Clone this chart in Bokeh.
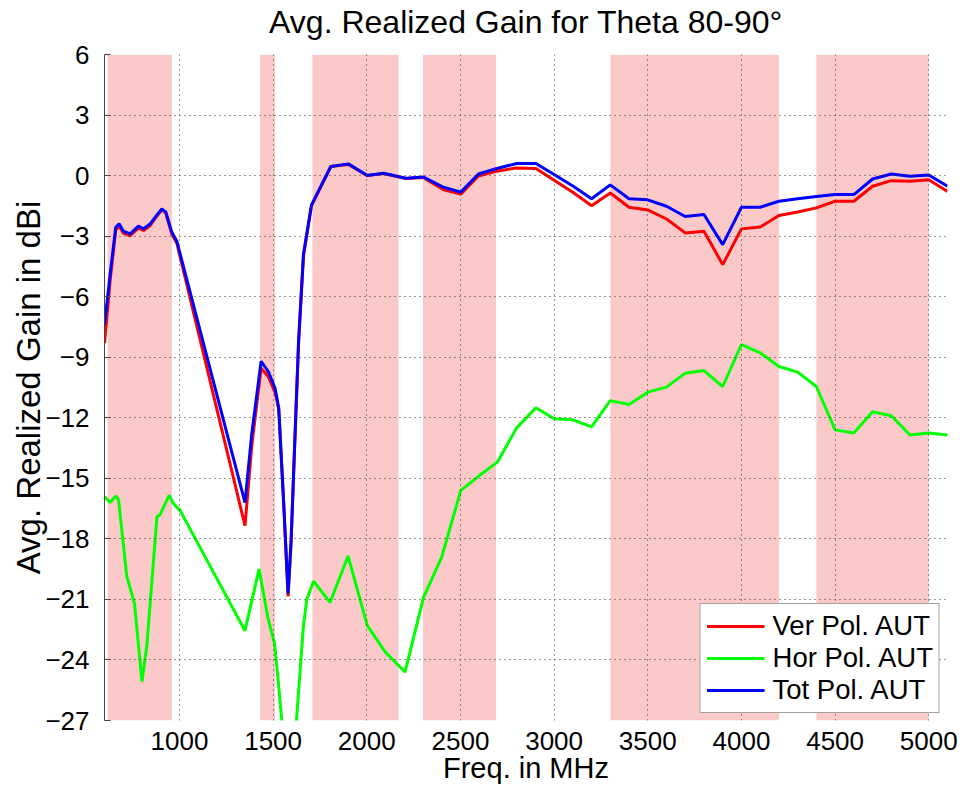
from bokeh.plotting import figure
from bokeh.models import BoxAnnotation, Range1d, FixedTicker, Title, LinearAxis
from bokeh.embed import file_html
from bokeh.resources import INLINE

# ---------------- data ----------------
freq_vt = [600, 630, 660, 678, 700, 737, 781, 808, 844, 880, 906, 927, 959, 986,
           1350, 1386, 1436, 1475, 1511, 1530, 1556, 1580, 1596, 1614, 1636, 1662,
           1705, 1808, 1902, 2003, 2089, 2210, 2303, 2410, 2502, 2596, 2694, 2800,
           2903, 3000, 3100, 3200, 3300, 3400, 3500, 3600, 3700, 3800, 3900, 4000,
           4100, 4200, 4300, 4400, 4500, 4600, 4700, 4800, 4900, 5000, 5100]
gain_ver = [-8.3, -5.2, -2.7, -2.5, -2.85, -2.98, -2.6, -2.72, -2.47, -2.0, -1.7, -1.85, -2.9, -3.35,
            -17.35, -13.4, -9.55, -9.97, -10.75, -11.6, -16.2, -20.85, -18.2, -13.7, -8.3, -4.0,
            -1.5, 0.45, 0.55, 0.0, 0.1, -0.15, -0.1, -0.7, -0.92, -0.02, 0.22, 0.38,
            0.35, -0.23, -0.83, -1.49, -0.86, -1.57, -1.7, -2.15, -2.84, -2.76, -4.41, -2.64,
            -2.55, -1.98, -1.8, -1.6, -1.27, -1.27, -0.53, -0.25, -0.28, -0.21, -0.79]
gain_tot = [-7.4, -4.9, -2.56, -2.39, -2.75, -2.89, -2.5, -2.64, -2.39, -1.95, -1.65, -1.8, -2.8, -3.25,
            -16.2, -12.8, -9.2, -9.72, -10.55, -11.5, -16.1, -20.7, -18.1, -13.6, -8.2, -3.9,
            -1.45, 0.45, 0.58, 0.0, 0.12, -0.13, -0.07, -0.58, -0.82, 0.08, 0.35, 0.6,
            0.6, 0.05, -0.52, -1.15, -0.46, -1.15, -1.2, -1.52, -2.03, -1.93, -3.42, -1.57,
            -1.57, -1.27, -1.15, -1.04, -0.94, -0.94, -0.17, 0.08, -0.03, 0.03, -0.53]
freq_hor = [600, 630, 660, 675, 719, 760, 800, 826, 880, 897, 945, 968, 1004,
            1350, 1425, 1472, 1508, 1530, 1556, 1580, 1600, 1620, 1662, 1680, 1716,
            1804, 1900, 2003, 2098, 2204, 2303, 2400, 2502, 2596, 2697, 2800, 2903,
            3000, 3100, 3200, 3300, 3400, 3500, 3600, 3700, 3800, 3900, 4000, 4100,
            4200, 4300, 4400, 4500, 4600, 4700, 4800, 4900, 5000, 5100]
gain_hor = [-15.9, -16.2, -15.87, -16.07, -19.86, -21.2, -25.07, -23.3, -16.9, -16.8, -15.84, -16.25, -16.6,
            -22.55, -19.5, -21.9, -23.2, -25.3, -28.0, -31.0, -29.5, -27.6, -22.3, -21.0, -20.1,
            -21.15, -18.85, -22.3, -23.6, -24.6, -20.9, -18.9, -15.6, -14.9, -14.2, -12.5, -11.5,
            -12.05, -12.1, -12.45, -11.15, -11.34, -10.73, -10.48, -9.79, -9.66, -10.45, -8.37, -8.78,
            -9.46, -9.74, -10.45, -12.6, -12.75, -11.7, -11.9, -12.85, -12.75, -12.85]
band_start = [617, 1430, 1710, 2300, 3300, 4400]
band_end = [960, 1510, 2170, 2690, 4200, 5000]
x_ticks = [1000, 1500, 2000, 2500, 3000, 3500, 4000, 4500, 5000]
y_ticks = [-27, -24, -21, -18, -15, -12, -9, -6, -3, 0, 3, 6]
series_names = ["Ver Pol. AUT", "Hor Pol. AUT", "Tot Pol. AUT"]
title_text = "Avg. Realized Gain for Theta 80-90\u00b0"

FONT = "Liberation Sans"

p = figure(width=967, height=791, x_range=Range1d(600, 5100), y_range=Range1d(-27, 6),
           output_backend="svg", toolbar_location=None)
p.min_border_left = 104
p.min_border_right = 20
p.min_border_top = 54
p.min_border_bottom = 71
p.outline_line_color = None
p.background_fill_color = "white"
p.border_fill_color = "white"

xa = p.below[0]
ya = p.left[0]

# title: label of a bare axis above the frame
top_axis = LinearAxis(ticker=FixedTicker(ticks=[]), axis_line_color=None,
                      major_tick_line_color=None, minor_tick_line_color=None,
                      major_tick_out=0, major_tick_in=0, major_label_standoff=0,
                      major_label_text_font_size="0px",
                      axis_label=title_text, axis_label_standoff=15,
                      axis_label_text_font=FONT, axis_label_text_font_size="32px",
                      axis_label_text_font_style="normal", axis_label_text_color="black")
p.add_layout(top_axis, "above")

# shaded frequency bands
for s, e in zip(band_start, band_end):
    p.add_layout(BoxAnnotation(left=s, right=e, fill_color="#FCC9C9", fill_alpha=1.0,
                               line_alpha=0, level="underlay"))

# grid
for g, ticks in ((p.xgrid, x_ticks), (p.ygrid, y_ticks)):
    g.ticker = FixedTicker(ticks=ticks)
    g.grid_line_color = "#333333"
    g.grid_line_dash = "1 4"
    g.grid_line_width = 1
    g.level = "glyph"

# axes
xa.ticker = FixedTicker(ticks=x_ticks)
ya.ticker = FixedTicker(ticks=y_ticks)
for ax in (xa, ya):
    ax.major_label_text_font = FONT
    ax.major_label_text_font_size = "26px"
    ax.major_label_text_color = "black"
    ax.minor_tick_line_color = None
    ax.major_tick_out = 0
    ax.axis_label_text_font = FONT
    ax.axis_label_text_font_style = "normal"
    ax.axis_label_text_color = "black"
xa.axis_line_color = None
xa.major_tick_line_color = None
xa.major_label_standoff = 11
xa.axis_label = "Freq. in MHz"
xa.axis_label_text_font_size = "29px"
xa.axis_label_standoff = -1
ya.axis_line_color = "#444444"
ya.major_tick_line_color = "#444444"
ya.major_tick_in = 6
ya.major_label_standoff = 15

ylab = Title(text="Avg. Realized Gain in dBi", align="center", text_font=FONT,
             text_font_size="33px", text_font_style="normal", text_color="black",
             standoff=-9, offset=0)
p.add_layout(ylab, "left")

# lines
p.line(freq_vt, gain_ver, line_color="#FF0000", line_width=3, legend_label=series_names[0])
p.line(freq_hor, gain_hor, line_color="#00FF00", line_width=3, legend_label=series_names[1])
p.line(freq_vt, gain_tot, line_color="#0000FF", line_width=3, legend_label=series_names[2])

lg = p.legend[0]
lg.location = "bottom_right"
lg.label_text_font = FONT
lg.label_text_font_size = "27.5px"
lg.label_text_color = "black"
lg.glyph_width = 58
lg.glyph_height = 30
lg.label_height = 30
lg.label_standoff = 8
lg.spacing = 0
lg.padding = 6
lg.margin = 7
lg.border_line_color = "#444444"
lg.border_line_width = 1
lg.background_fill_color = "white"
lg.background_fill_alpha = 1.0

open("out.html", "w").write(file_html(p, INLINE))
